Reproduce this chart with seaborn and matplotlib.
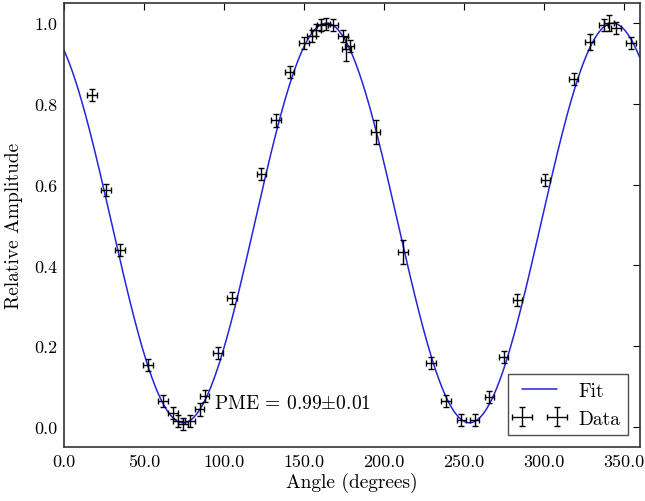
import numpy as np
import seaborn as sns
import matplotlib
matplotlib.use("Agg")
import matplotlib.pyplot as plt
from matplotlib.ticker import FormatStrFormatter

# measured points (angle in degrees, relative amplitude)
angles = [17.5, 26.1, 35.2, 52.5, 61.9, 68.1, 71.3, 74.4, 78.6, 84.8, 87.9, 96.3,
          105.2, 123.4, 132.7, 141.1, 150.0, 154.8, 157.7, 160.9, 163.6, 168.2,
          174.4, 176.5, 178.6, 194.8, 212.0, 229.6, 239.0, 248.4, 256.7, 266.0,
          274.8, 283.4, 301.0, 318.6, 328.6, 337.3, 340.6, 345.2, 354.6]
amps = [0.822, 0.586, 0.438, 0.154, 0.063, 0.035, 0.014, 0.007, 0.014, 0.043, 0.076, 0.183,
        0.319, 0.627, 0.759, 0.880, 0.952, 0.969, 0.983, 0.995, 0.998, 0.995,
        0.969, 0.936, 0.944, 0.730, 0.434, 0.158, 0.063, 0.016, 0.016, 0.073,
        0.172, 0.314, 0.611, 0.862, 0.954, 0.995, 1.000, 0.989, 0.952]
angle_err = [3.0] * len(angles)
amp_err = [0.015] * len(angles)
amp_err[23] = 0.03   # 176.5 deg
amp_err[25] = 0.03   # 194.8 deg
amp_err[26] = 0.03   # 212 deg
amp_err[36] = 0.02
amp_err[38] = 0.02

# fit parameters: offset + amp * cos^2(pi (x - x0) / period)
fit_offset = 0.01
fit_amp = 0.99
fit_x0 = 164.0
fit_period = 179.0
pme_text = r"PME = 0.99$\pm$0.01"

sns.set_style("white")
plt.rcParams["font.family"] = ["cmr10", "DejaVu Serif"]
plt.rcParams["mathtext.fontset"] = "cm"
plt.rcParams["axes.formatter.use_mathtext"] = True
plt.rcParams["text.color"] = "black"
plt.rcParams["axes.labelcolor"] = "black"
plt.rcParams["xtick.direction"] = "in"
plt.rcParams["ytick.direction"] = "in"
plt.rcParams["xtick.top"] = True
plt.rcParams["ytick.right"] = True

fig = plt.figure(figsize=(6.45, 5.02), dpi=100)
ax = fig.add_axes([0.0992, 0.1076, 0.8928, 0.8844])

fit_x = np.linspace(0, 360, 721)
fit_y = fit_offset + fit_amp * np.cos(np.pi * (fit_x - fit_x0) / fit_period) ** 2
sns.lineplot(x=fit_x, y=fit_y, color="#2424dc", linewidth=1.1, label="Fit", ax=ax)

ax.errorbar(angles, amps, xerr=angle_err, yerr=amp_err, fmt="none", ecolor="black",
            elinewidth=1.0, capsize=2.5, capthick=1.0, label="Data")

ax.set_xlim(0, 360)
ax.set_ylim(-0.05, 1.05)
ax.set_xticks(np.arange(0, 351, 50))
ax.set_yticks(np.arange(0, 1.01, 0.2))
ax.xaxis.set_major_formatter(FormatStrFormatter("%.1f"))
ax.yaxis.set_major_formatter(FormatStrFormatter("%.1f"))
ax.tick_params(axis="both", which="major", length=5, width=0.8, labelsize=13,
               colors="black", pad=5)
for s in ax.spines.values():
    s.set_color("#333333")
    s.set_linewidth(1.2)

ax.set_xlabel("Angle (degrees)", fontsize=14, labelpad=2)
ax.set_ylabel("Relative Amplitude", fontsize=14, labelpad=8)
ax.text(94, 0.06, pme_text, fontsize=14, va="center", ha="left")

leg = ax.legend(loc="lower right", numpoints=2, fontsize=14, fancybox=False,
                frameon=True, borderaxespad=0.6, handlelength=2.4)
leg.get_frame().set_edgecolor("#222222")
leg.get_frame().set_linewidth(1.0)

fig.savefig("out.png", dpi=100)
